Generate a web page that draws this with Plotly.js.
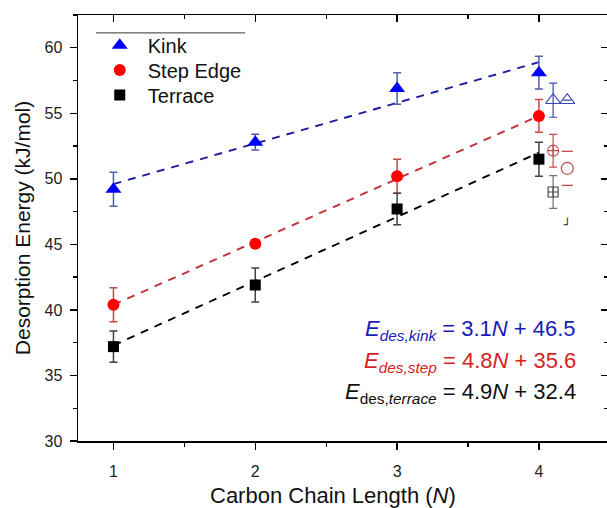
<!DOCTYPE html>
<html><head><meta charset="utf-8">
<script src="https://cdn.plot.ly/plotly-3.0.1.min.js"></script>
<style>body{margin:0;background:#fff}</style>
</head><body><div id="chart" style="width:607px;height:508px"></div>
<script>
// ---- data ----
const chainLength   = [1, 2, 3, 4];
const kinkEnergy    = [49.2, 52.8, 56.9, 58.1];
const kinkErr       = [1.3, 0.6, 1.2, 1.25];
const stepEnergy    = [40.4, 45.05, 50.2, 54.8];
const stepErr       = [1.3, 0.3, 1.3, 1.25];
const terraceEnergy = [37.2, 41.9, 47.7, 51.5];
const terraceErr    = [1.2, 1.3, 1.2, 1.3];

const seriesNames   = ["Kink", "Step Edge", "Terrace"];
const fitSlopes     = [3.1, 4.8, 4.9];
const fitIntercepts = [46.5, 35.6, 32.4];
const fitRangeN     = [1, 4];

// open (comparison) markers near N = 4
const openKinkX     = [4.1, 4.2];
const openKinkY     = [56.0, 56.0];
const openKinkErr   = [1.3, 0];
const openStepX     = [4.1];
const openStepY     = [52.15];
const openStepErr   = [1.25];
const openStep2X    = [4.2];
const openStep2Y    = [50.8];
const openStep2Err  = [1.3];
const openTerraceX  = [4.1];
const openTerraceY  = [49.0];
const openTerraceErr= [1.25];
const cornerX       = [4.2];
const cornerY       = [46.4];

const colors = {
  kink:   {fill:'#0000ff', err:'#5260a8', line:'#1c1ca0', open:'#3a48b8', text:'#1a1ab4'},
  step:   {fill:'#ff0000', err:'#c84848', line:'#c0303a', open:'#c05050', text:'#d42222'},
  terrace:{fill:'#000000', err:'#404040', line:'#000000', open:'#404040', text:'#111111'}
};
const keys = ['kink','step','terrace'];
const energies = [kinkEnergy, stepEnergy, terraceEnergy];
const errs = [kinkErr, stepErr, terraceErr];
const symbols = ['triangle-up','circle','square'];
const sizes = [14, 12, 11];
const legendIds = ['legend','legend2','legend3'];
const legendY = [0.975, 0.9165, 0.858];

const traces = [];
// fit lines
keys.forEach((k, i) => {
  traces.push({
    x: fitRangeN, y: fitRangeN.map(n => fitSlopes[i]*n + fitIntercepts[i]),
    mode: 'lines', line: {color: colors[k].line, width: 1.9, dash: '8px,7px'},
    showlegend: false, hoverinfo: 'skip'
  });
});
// open markers
traces.push({x: openKinkX, y: openKinkY, mode:'markers', showlegend:false,
  marker:{symbol:'triangle-up-open', size:13, color:colors.kink.open, line:{width:1.1, color:colors.kink.open}},
  error_y:{type:'data', array:openKinkErr, visible:true, color:colors.kink.open, thickness:1.2, width:4}});
traces.push({x: openStepX, y: openStepY, mode:'markers', showlegend:false,
  marker:{symbol:'circle-cross-open', size:11, color:colors.step.open, line:{width:1.1, color:colors.step.open}},
  error_y:{type:'data', array:openStepErr, visible:true, color:colors.step.open, thickness:1.2, width:4}});
traces.push({x: openStep2X, y: openStep2Y, mode:'markers', showlegend:false,
  marker:{symbol:'circle-open', size:12, color:colors.step.open, line:{width:1.2, color:colors.step.open}}});
traces.push({x: openStep2X.concat(openStep2X),
  y: openStep2Y.map((v,i)=>v+openStep2Err[i]).concat(openStep2Y.map((v,i)=>v-openStep2Err[i])),
  mode:'markers', showlegend:false,
  marker:{symbol:'line-ew-open', size:8, color:colors.step.open, line:{width:1.4, color:colors.step.open}}});
traces.push({x: openTerraceX, y: openTerraceY, mode:'markers', showlegend:false,
  marker:{symbol:'square-cross-open', size:10, color:colors.terrace.open, line:{width:1.1, color:colors.terrace.open}},
  error_y:{type:'data', array:openTerraceErr, visible:true, color:'#707070', thickness:1.2, width:4}});
traces.push({x: cornerX, y: cornerY, mode:'text', text:['┘'], showlegend:false,
  textfont:{family:'DejaVu Sans', size:12, color:'#222'}, hoverinfo:'skip'});
// main series
keys.forEach((k, i) => {
  traces.push({
    x: chainLength, y: energies[i], name: seriesNames[i], mode: 'markers', legend: legendIds[i],
    marker: {symbol: symbols[i], size: sizes[i], color: colors[k].fill, line:{width:0}},
    error_y: {type:'data', array: errs[i], visible:true, color: colors[k].err, thickness:1.5, width:4}
  });
});
// dummy trace to create the mirrored top/right axes
traces.push({x:[], y:[], xaxis:'x2', yaxis:'y2', showlegend:false, hoverinfo:'skip', mode:'markers'});

const font = 'Liberation Sans, Arial, sans-serif';
const eqText = [
  '<i>E</i><sub><i>des,kink</i></sub> = 3.1<i>N</i> + 46.5',
  '<i>E</i><sub><i>des,step</i></sub> = 4.8<i>N</i> + 35.6',
  '<i>E</i><sub>des,<i>terrace</i></sub> = 4.9<i>N</i> + 32.4'
];
const eqY = [0.2596, 0.186, 0.1136];

const legendBase = {x: 0.026, xanchor:'left', yanchor:'top', bgcolor:'rgba(0,0,0,0)',
  font:{family:font, size:20, color:'#111'}, itemwidth:46};

const layout = {
  width: 607, height: 508,
  margin: {l: 78, r: 0, t: 15, b: 67},
  paper_bgcolor: '#fff', plot_bgcolor: '#fff',
  font: {family: font, color: '#222'},
  showlegend: true,
  legend:  Object.assign({}, legendBase, {y: legendY[0]}),
  legend2: Object.assign({}, legendBase, {y: legendY[1]}),
  legend3: Object.assign({}, legendBase, {y: legendY[2]}),
  xaxis: {range:[0.75, 4.48], autorange:false, tick0:0, dtick:1, ticks:'outside', ticklen:7, tickwidth:1.3,
    tickcolor:'#000', showline:true, linewidth:1.5, linecolor:'#000', showgrid:false, zeroline:false,
    tickfont:{size:16, color:'#222'}, ticklabelstandoff:8,
    minor:{ticks:'outside', ticklen:4, tickwidth:1.3, tickcolor:'#000', dtick:0.5, tick0:0, showgrid:false}},
  yaxis: {range:[30, 62.5], autorange:false, tick0:0, dtick:5, ticks:'outside', ticklen:7, tickwidth:1.3,
    tickcolor:'#000', showline:true, linewidth:1.5, linecolor:'#000', showgrid:false, zeroline:false,
    tickfont:{size:16, color:'#222'}, ticklabelstandoff:4,
    minor:{ticks:'outside', ticklen:4, tickwidth:1.3, tickcolor:'#000', dtick:2.5, tick0:0, showgrid:false},
    title:{text:'Desorption Energy (kJ/mol)', font:{size:21, color:'#111'}, standoff:8}},
  xaxis2: {overlaying:'x', side:'top', anchor:'y2', range:[0.75, 4.48], autorange:false, tick0:0, dtick:1,
    ticks:'inside', ticklen:7, tickwidth:1.3, tickcolor:'#000', showline:true, linewidth:1.5, linecolor:'#000',
    showgrid:false, zeroline:false, showticklabels:false,
    minor:{ticks:'inside', ticklen:4, tickwidth:1.3, tickcolor:'#000', dtick:0.5, tick0:0, showgrid:false}},
  yaxis2: {overlaying:'y', side:'right', anchor:'x2', range:[30, 62.5], autorange:false, tick0:0, dtick:5,
    ticks:'inside', ticklen:6, tickwidth:1.3, tickcolor:'#000', showline:false,
    showgrid:false, zeroline:false, showticklabels:false,
    minor:{ticks:'inside', ticklen:3, tickwidth:1.3, tickcolor:'#000', dtick:2.5, tick0:0, showgrid:false}},
  shapes: [{type:'line', xref:'paper', yref:'paper', x0:0.034, x1:0.316, y0:0.958, y1:0.958,
    line:{color:'#333', width:1}}],
  annotations: keys.map((k, i) => ({
    xref:'paper', yref:'paper', x:0.946, y:eqY[i], xanchor:'right', yanchor:'middle', showarrow:false,
    text: eqText[i], font:{family:font, size:22, color:colors[k].text}
  })).concat([{
    xref:'paper', yref:'paper', x:0.482, y:-0.127, xanchor:'center', yanchor:'middle', showarrow:false,
    text:'Carbon Chain Length (<i>N</i>)', font:{family:font, size:22, color:'#111'}
  }])
};

Plotly.newPlot('chart', traces, layout, {displayModeBar:false, staticPlot:true});
</script>
</body></html>
